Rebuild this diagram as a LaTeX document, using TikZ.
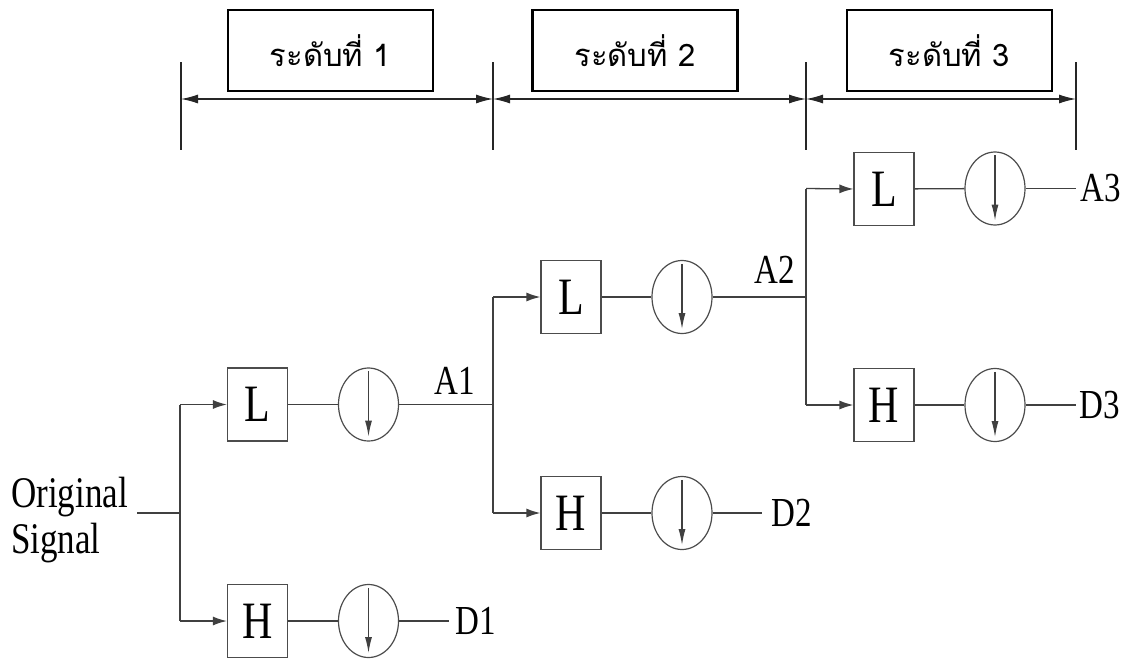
\documentclass[tikz,border=0pt]{standalone}
\usepackage{fontspec}
\usepackage{graphicx}
\setmainfont{Liberation Serif}
\newfontfamily\thaifont[Script=Thai]{Loma}
\usetikzlibrary{arrows.meta,shapes.geometric}
\tikzset{
  tbox/.style={draw=black, line width=2.2pt, minimum width=205pt, minimum height=81pt, inner sep=0pt, font=\thaifont\fontsize{31}{31}\selectfont},
  fbox/.style={draw=black!70, line width=1.2pt, minimum width=60pt, minimum height=73pt, inner sep=0pt, font=\fontsize{42}{42}\selectfont},
  dsamp/.style={ellipse, draw=black!70, line width=1.2pt, minimum width=60pt, minimum height=73pt, inner sep=0pt},
  wire/.style={draw=black!75, line width=1.3pt},
  dim/.style={draw=black!85, line width=1.2pt},
  arr/.style={-{Latex[length=14pt,width=9pt]}},
  darr/.style={{Latex[length=17pt,width=9pt]}-{Latex[length=17pt,width=9pt]}},
  inarr/.style={-{Latex[length=16pt,width=7pt]}},
  lbl/.style={font=\fontsize{33}{33}\selectfont, inner sep=0pt},
}
\newcommand{\vs}[1]{\scalebox{1}[1.25]{#1}}
\begin{document}
\begin{tikzpicture}[x=1pt,y=-1pt]
\useasboundingbox (0,0) rectangle (1136,659);
% top level boxes
\node[tbox] (tb1) at (330.5,50.5) {ระดับที่ 1};
\node[tbox] (tb2) at (635,50.5) {ระดับที่ 2};
\node[tbox] (tb3) at (949.5,50.5) {ระดับที่ 3};
% dimension ticks
\foreach \n/\x in {1/181,2/493,3/806,4/1076}{
  \coordinate (t\n) at (\x,62);
  \coordinate (b\n) at (\x,150);
  \coordinate (m\n) at (\x,99);
  \draw[dim] (t\n) -- (b\n);
}
\draw[dim,darr] (m1) -- (m2);
\draw[dim,darr] (m2) -- (m3);
\draw[dim,darr] (m3) -- (m4);
% input
\node[lbl, anchor=base west, font=\fontsize{35}{35}\selectfont] (orig1) at (11,507) {\vs{Original}};
\node[lbl, anchor=base west, font=\fontsize{35}{35}\selectfont] (orig2) at (11,553) {\vs{Signal}};
\coordinate (in) at (137,513);
\coordinate (s0) at (180,513);
\coordinate (s0t) at (180,404.5);
\coordinate (s0b) at (180,621);
% level 1
\node[fbox] (L1) at (257.5,404.5) {\vs{L}};
\node[fbox] (H1) at (257.5,621) {\vs{H}};
\node[dsamp] (C1L) at (368.5,404.5) {};
\node[dsamp] (C1H) at (368.5,621) {};
\coordinate (j1) at (493,404.5);
\coordinate (j1t) at (493,297);
\coordinate (j1b) at (493,513);
\coordinate (d1) at (449,621);
\node[lbl, anchor=base] (A1) at (455,394) {\vs{A1}};
\node[lbl, anchor=west] (D1) at (455,621) {\vs{D1}};
% level 2
\node[fbox] (L2) at (571,297) {\vs{L}};
\node[fbox] (H2) at (571,513) {\vs{H}};
\node[dsamp] (C2L) at (682,297) {};
\node[dsamp] (C2H) at (682,513) {};
\coordinate (j2) at (806,297);
\coordinate (j2t) at (806,188.5);
\coordinate (j2b) at (806,405);
\coordinate (d2) at (762,513);
\node[lbl, anchor=base] (A2) at (775,283) {\vs{A2}};
\node[lbl, anchor=west] (D2) at (771,513) {\vs{D2}};
% level 3
\node[fbox] (L3) at (884,189) {\vs{L}};
\node[fbox] (H3) at (884,405) {\vs{H}};
\node[dsamp] (C3L) at (995,188.5) {};
\node[dsamp] (C3H) at (995,405) {};
\coordinate (a3) at (1076,188.5);
\coordinate (d3) at (1076,405);
\node[lbl, anchor=west] (A3) at (1080,188.5) {\vs{A3}};
\node[lbl, anchor=west] (D3) at (1079,405) {\vs{D3}};
% wires
\draw[wire] (in) -- (s0);
\draw[wire] (s0t) -- (s0b);
\draw[wire,arr] (s0t) -- (L1.west);
\draw[wire,arr] (s0b) -- (H1.west);
\draw[wire] (L1) -- (C1L);
\draw[wire] (H1) -- (C1H);
\draw[wire] (C1L) -- (j1);
\draw[wire] (C1H) -- (d1);
\draw[wire] (j1t) -- (j1b);
\draw[wire,arr] (j1t) -- (L2.west);
\draw[wire,arr] (j1b) -- (H2.west);
\draw[wire] (L2) -- (C2L);
\draw[wire] (H2) -- (C2H);
\draw[wire] (C2L) -- (j2);
\draw[wire] (C2H) -- (d2);
\draw[wire] (j2t) -- (j2b);
\draw[wire,arr] (j2t) -- (L3.west);
\draw[wire,arr] (j2b) -- (H3.west);
\draw[wire] (L3) -- (C3L);
\draw[wire] (H3) -- (C3H);
\draw[wire] (C3L) -- (a3);
\draw[wire] (C3H) -- (d3);
% downsampling arrows
\foreach \c in {C1L,C1H,C2L,C2H,C3L,C3H}{
  \draw[wire,inarr] ([yshift=-4pt]\c.north) -- ([yshift=5pt]\c.south);
}
\end{tikzpicture}
\end{document}
